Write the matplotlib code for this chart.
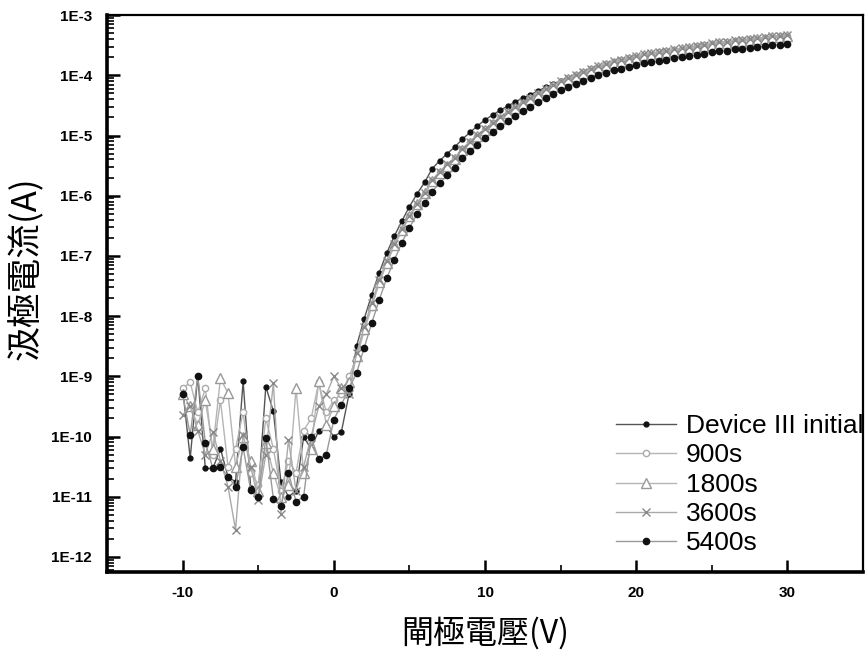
import matplotlib
matplotlib.use("Agg")
import matplotlib.pyplot as plt
import matplotlib.ticker as mticker
import numpy as np

plt.rcParams['font.family'] = ['Liberation Sans', 'Noto Sans CJK TC', 'DejaVu Sans']
plt.rcParams['axes.unicode_minus'] = False

# gate voltage sweep (V), 0.5 V steps
vg = np.arange(-10, 30.01, 0.5)

# log10 of drain current (A)
# -10 .. 1.0 V (noise floor), then 1.5 .. 30 V
log_initial = [
    -9.20, -10.36, -8.99, -10.53, -10.53, -10.20, -10.67, -10.75, -9.08, -10.85,
    -10.95, -9.17, -9.58, -10.75, -11.00, -10.90, -10.01, -10.20, -9.90, -9.83,
    -10.00, -9.92, -9.30,
    -8.50, -8.05, -7.65, -7.28, -6.95, -6.67, -6.42, -6.18, -5.97, -5.78,
    -5.55, -5.42, -5.30, -5.19, -5.06, -4.95, -4.84, -4.74, -4.66, -4.58,
    -4.51, -4.44, -4.38, -4.32, -4.26, -4.20, -4.15, -4.10, -4.05, -4.00,
    -3.95, -3.91, -3.87, -3.83, -3.79, -3.76, -3.73, -3.70, -3.67, -3.65,
    -3.63, -3.61, -3.59, -3.57, -3.55, -3.53, -3.51, -3.49, -3.47, -3.46,
    -3.44, -3.43, -3.41, -3.40, -3.39, -3.37, -3.36, -3.35,
]
log_900 = [
    -9.20, -9.10, -9.60, -9.20, -10.30, -9.40, -10.50, -10.20, -9.60, -10.60,
    -10.80, -9.70, -10.20, -10.90, -10.40, -10.60, -9.90, -9.70, -9.10, -9.60,
    -9.40, -9.30, -9.00,
    -8.70, -8.25, -7.85, -7.45, -7.13, -6.83, -6.58, -6.35, -6.15, -5.97,
    -5.75, -5.61, -5.49, -5.38, -5.23, -5.11, -5.00, -4.90, -4.80, -4.71,
    -4.62, -4.54, -4.46, -4.38, -4.31, -4.24, -4.17, -4.11, -4.05, -4.00,
    -3.95, -3.90, -3.86, -3.82, -3.78, -3.75, -3.72, -3.69, -3.66, -3.64,
    -3.62, -3.60, -3.58, -3.56, -3.54, -3.52, -3.50, -3.48, -3.46, -3.45,
    -3.43, -3.42, -3.40, -3.39, -3.38, -3.36, -3.35, -3.34,
]
log_1800 = [
    -9.30, -9.50, -9.80, -9.40, -10.20, -9.03, -9.28, -10.50, -10.00, -10.40,
    -10.90, -10.10, -10.60, -11.00, -10.80, -9.20, -10.60, -10.20, -9.08, -9.80,
    -9.50, -9.20, -9.10,
    -8.66, -8.22, -7.82, -7.43, -7.11, -6.82, -6.57, -6.34, -6.14, -5.96,
    -5.76, -5.62, -5.50, -5.39, -5.24, -5.12, -5.01, -4.91, -4.81, -4.72,
    -4.63, -4.55, -4.47, -4.39, -4.32, -4.25, -4.18, -4.12, -4.06, -4.01,
    -3.96, -3.91, -3.87, -3.83, -3.79, -3.76, -3.73, -3.70, -3.67, -3.65,
    -3.63, -3.61, -3.59, -3.57, -3.55, -3.53, -3.51, -3.49, -3.47, -3.46,
    -3.44, -3.43, -3.41, -3.40, -3.39, -3.37, -3.36, -3.35,
]
log_3600 = [
    -9.64, -9.50, -9.90, -10.30, -9.92, -10.40, -10.83, -11.55, -9.97, -10.50,
    -11.05, -10.30, -9.11, -11.28, -10.06, -10.90, -10.50, -10.00, -9.50, -9.30,
    -9.00, -9.20, -9.30,
    -8.62, -8.18, -7.78, -7.40, -7.08, -6.80, -6.55, -6.33, -6.13, -5.95,
    -5.74, -5.60, -5.48, -5.37, -5.22, -5.10, -4.99, -4.89, -4.79, -4.70,
    -4.61, -4.53, -4.45, -4.37, -4.30, -4.23, -4.16, -4.10, -4.04, -3.99,
    -3.94, -3.89, -3.85, -3.81, -3.77, -3.74, -3.71, -3.68, -3.65, -3.63,
    -3.61, -3.59, -3.57, -3.55, -3.53, -3.51, -3.49, -3.47, -3.45, -3.44,
    -3.42, -3.41, -3.39, -3.38, -3.37, -3.35, -3.34, -3.33,
]
log_5400 = [
    -9.30, -9.97, -9.00, -10.10, -10.53, -10.50, -10.67, -10.83, -10.18, -10.89,
    -11.00, -10.03, -11.03, -11.16, -10.60, -11.08, -11.00, -10.01, -10.38, -10.30,
    -9.72, -9.47, -9.20,
    -8.95, -8.53, -8.12, -7.73, -7.37, -7.07, -6.78, -6.53, -6.31, -6.12,
    -5.93, -5.79, -5.66, -5.54, -5.38, -5.26, -5.15, -5.04, -4.94, -4.85,
    -4.76, -4.68, -4.60, -4.52, -4.45, -4.38, -4.31, -4.25, -4.19, -4.14,
    -4.09, -4.04, -4.00, -3.96, -3.92, -3.89, -3.86, -3.83, -3.80, -3.78,
    -3.76, -3.74, -3.72, -3.70, -3.68, -3.66, -3.64, -3.62, -3.60, -3.59,
    -3.57, -3.56, -3.54, -3.53, -3.52, -3.50, -3.49, -3.48,
]

labels = ['Device III initial', '900s', '1800s', '3600s', '5400s']

fig = plt.figure(figsize=(8.66, 6.56), dpi=100)
ax = fig.add_axes([0.1236, 0.128, 0.873, 0.849])

ax.plot(vg, 10 ** np.array(log_initial), '-o', color='#555555', lw=1.0,
        ms=3.5, mfc='#111111', mec='#111111', label=labels[0])
ax.plot(vg, 10 ** np.array(log_900), '-o', color='#b5b5b5', lw=1.0,
        ms=4.5, mfc='white', mec='#aaaaaa', label=labels[1])
ax.plot(vg, 10 ** np.array(log_1800), '-^', color='#b5b5b5', lw=1.0,
        ms=7, mfc='white', mec='#999999', label=labels[2])
ax.plot(vg, 10 ** np.array(log_3600), '-x', color='#aaaaaa', lw=1.0,
        ms=6, mec='#888888', label=labels[3])
ax.plot(vg, 10 ** np.array(log_5400), '-o', color='#9a9a9a', lw=1.0,
        ms=4.5, mfc='#111111', mec='#111111', label=labels[4])

ax.set_yscale('log')
ax.set_xlim(-15, 35)
ax.set_ylim(10 ** -12.25, 1e-3)

ax.set_yticks([10.0 ** e for e in range(-12, -2)])
ax.yaxis.set_major_formatter(mticker.FuncFormatter(
    lambda v, p: f"1E{int(round(np.log10(v)))}"))
ax.yaxis.set_minor_locator(mticker.LogLocator(base=10, subs=np.arange(2, 10), numticks=20))
ax.yaxis.set_minor_formatter(mticker.NullFormatter())
ax.set_xticks([-10, 0, 10, 20, 30])
ax.xaxis.set_minor_locator(mticker.MultipleLocator(5))

ax.tick_params(which='major', direction='in', length=9, width=1.8)
ax.tick_params(which='minor', direction='in', length=5, width=1.2)
ax.tick_params(axis='both', which='both', top=False, right=False)
ax.tick_params(axis='y', which='major', pad=11)
ax.tick_params(axis='x', which='major', pad=10)
for t in ax.get_xticklabels() + ax.get_yticklabels():
    t.set_fontweight('bold')
    t.set_fontsize(11)

for s in ['left', 'bottom']:
    ax.spines[s].set_linewidth(2.6)
for s in ['top', 'right']:
    ax.spines[s].set_linewidth(1.6)

ax.set_ylabel('汲極電流(A)', family=['Noto Sans CJK TC'], fontsize=25, fontweight='light')
ax.yaxis.set_label_coords(-0.083, 0.546)
ax.set_xlabel('閘極電壓(V)', family=['Noto Sans CJK TC'], fontsize=23, fontweight='light',
              labelpad=12)

leg = ax.legend(loc='lower right', bbox_to_anchor=(1.0, 0.03), frameon=False,
                fontsize=19, handlelength=2.3, handletextpad=0.35,
                labelspacing=0.2, borderpad=0, borderaxespad=0)

fig.savefig('out.png', dpi=100)
